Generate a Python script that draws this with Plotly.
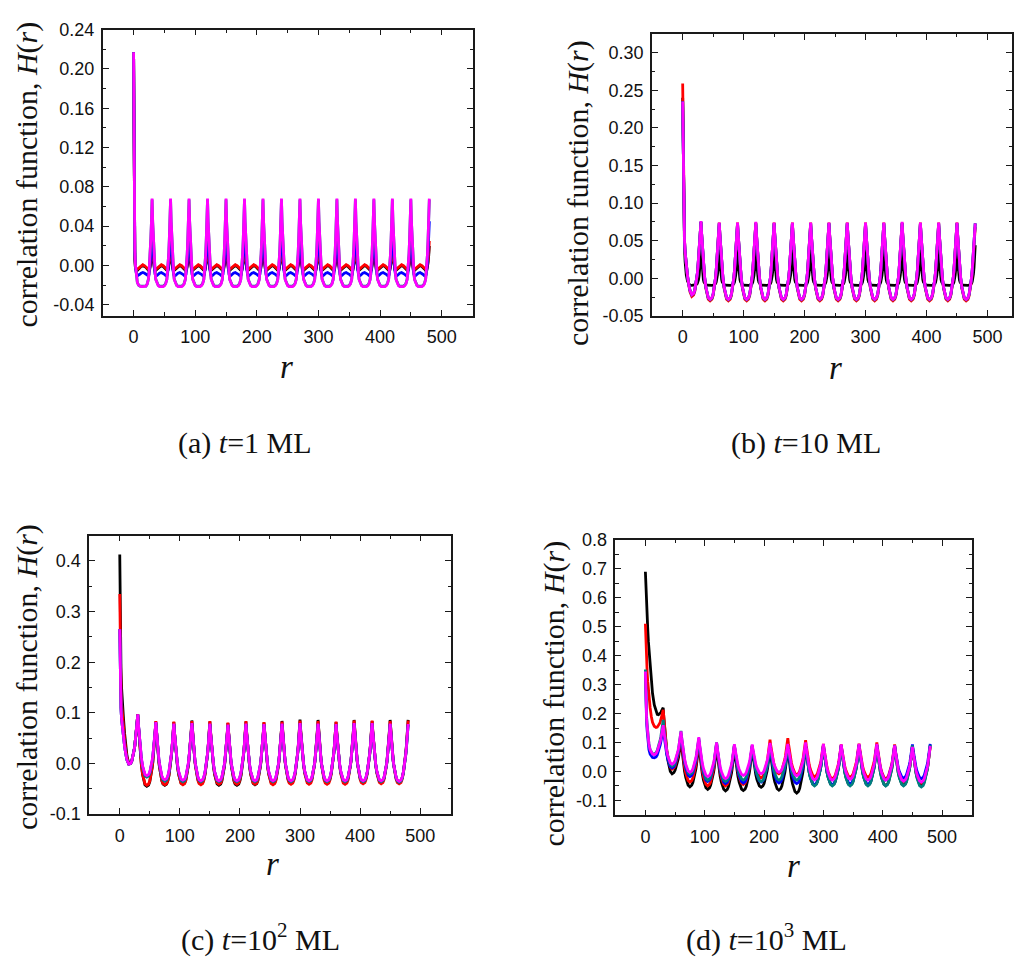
import plotly.graph_objects as go

# ---------------- sampling grid (units of r) ----------------
FIRST_OFFSETS = [0, 1, 2, 3, 4, 5, 6, 8, 10, 12, 15, 18, 20, 22, 24, 25, 26, 27, 28, 29]
HALF_OFFSETS = [0, 1, 2, 3, 4, 5, 6, 8, 10, 12, 15]
PERIOD = 30

X_TICKS = [0, 100, 200, 300, 400, 500]
X_TICK_LABELS = ["0", "100", "200", "300", "400", "500"]

Y_TICKS_A = [-0.04, 0.00, 0.04, 0.08, 0.12, 0.16, 0.20, 0.24]
Y_LABELS_A = ["-0.04", "0.00", "0.04", "0.08", "0.12", "0.16", "0.20", "0.24"]
Y_TICKS_B = [-0.05, 0.00, 0.05, 0.10, 0.15, 0.20, 0.25, 0.30]
Y_LABELS_B = ["-0.05", "0.00", "0.05", "0.10", "0.15", "0.20", "0.25", "0.30"]
Y_TICKS_C = [-0.1, 0.0, 0.1, 0.2, 0.3, 0.4]
Y_LABELS_C = ["-0.1", "0.0", "0.1", "0.2", "0.3", "0.4"]
Y_TICKS_D = [-0.1, 0.0, 0.1, 0.2, 0.3, 0.4, 0.5, 0.6, 0.7, 0.8]
Y_LABELS_D = ["-0.1", "0.0", "0.1", "0.2", "0.3", "0.4", "0.5", "0.6", "0.7", "0.8"]

CAPTIONS = ["(a) <i>t</i>=1 ML", "(b) <i>t</i>=10 ML",
            "(c) <i>t</i>=10<sup>2</sup> ML", "(d) <i>t</i>=10<sup>3</sup> ML"]

# ---------------- panel (a) t = 1 ML ----------------
A_BLACK_FIRST = [0.217, 0.05, 0.006, -0.003, -0.005, -0.0055, -0.005, -0.0035, -0.002, -0.001, 0.0,
                 -0.001, -0.002, -0.0035, -0.005, -0.0055, -0.0045, -0.002, 0.003, 0.01]
A_BLACK_PEAKS = [0.02] * 16
A_BLACK_TROUGHS = [0.0] * 15
A_BLACK_SHAPE = [1.0, 0.5, 0.15, -0.1, -0.225, -0.275, -0.25, -0.175, -0.1, -0.05, 0.0]

A_RED_FIRST = [0.217, 0.05, 0.008, -0.002, -0.004, -0.0045, -0.004, -0.003, -0.0015, -0.0003, 0.0008,
               -0.0003, -0.0015, -0.003, -0.004, -0.0045, -0.003, 0.0, 0.005, 0.013]
A_RED_PEAKS = [0.025] * 16
A_RED_TROUGHS = [0.0008] * 15
A_RED_SHAPE = [1.0, 0.5, 0.17, -0.033, -0.157, -0.219, -0.198, -0.157, -0.095, -0.045, 0.0]

A_BLUE_FIRST = [0.217, 0.055, 0.012, -0.003, -0.008, -0.0095, -0.0105, -0.010, -0.009, -0.008, -0.0072,
                -0.008, -0.009, -0.010, -0.0105, -0.009, -0.005, 0.002, 0.012, 0.025]
A_BLUE_PEAKS = [0.042] * 15 + [0.045]
A_BLUE_TROUGHS = [-0.0072] * 15
A_BLUE_SHAPE = [1.0, 0.65, 0.39, 0.19, 0.045, -0.037, -0.067, -0.061, -0.037, -0.016, 0.0]

A_TEAL_FIRST = [0.217, 0.06, 0.015, 0.0, -0.008, -0.013, -0.017, -0.020, -0.021, -0.021, -0.021,
                -0.021, -0.021, -0.019, -0.014, -0.008, 0.001, 0.012, 0.028, 0.045]
A_TEAL_PEAKS = [0.067] * 16
A_TEAL_TROUGHS = [-0.021] * 15
A_TEAL_SHAPE = [1.0, 0.74, 0.55, 0.37, 0.25, 0.15, 0.08, 0.03, 0.01, 0.0, 0.0]

A_MAGENTA_FIRST = [0.217, 0.06, 0.015, 0.0, -0.008, -0.013, -0.017, -0.020, -0.021, -0.0215, -0.0215,
                   -0.0215, -0.021, -0.019, -0.014, -0.008, 0.001, 0.012, 0.028, 0.045]
A_MAGENTA_PEAKS = [0.068] * 16
A_MAGENTA_TROUGHS = [-0.0215] * 15
A_MAGENTA_SHAPE = [1.0, 0.74, 0.55, 0.37, 0.25, 0.15, 0.08, 0.03, 0.01, 0.0, 0.0]

# ---------------- panel (b) t = 10 ML ----------------
B_BLACK_FIRST = [0.24, 0.13, 0.07, 0.04, 0.022, 0.012, 0.004, -0.004, -0.008, -0.0095, -0.0095,
                 -0.0095, -0.0092, -0.0085, -0.007, -0.005, -0.002, 0.004, 0.012, 0.024]
B_BLACK_PEAKS = [0.038] * 15 + [0.044]
B_BLACK_TROUGHS = [-0.0095] * 15
B_BLACK_SHAPE = [1.0, 0.7, 0.45, 0.28, 0.16, 0.095, 0.053, 0.021, 0.006, 0.0, 0.0]

B_RED_FIRST = [0.259, 0.15, 0.085, 0.052, 0.035, 0.024, 0.015, 0.002, -0.009, -0.018, -0.024,
               -0.022, -0.017, -0.008, 0.005, 0.014, 0.024, 0.035, 0.048, 0.061]
B_RED_PEAKS = [0.075] + [0.074] * 14 + [0.068]
B_RED_TROUGHS = [-0.030] * 15
B_RED_SHAPE = [1.0, 0.86, 0.73, 0.6, 0.48, 0.38, 0.29, 0.16, 0.07, 0.02, 0.0]

B_BLUE_FIRST = [0.235, 0.14, 0.08, 0.05, 0.035, 0.024, 0.015, 0.003, -0.008, -0.016, -0.022,
                -0.020, -0.015, -0.006, 0.006, 0.015, 0.025, 0.037, 0.050, 0.062]
B_BLUE_PEAKS = [0.075] + [0.073] * 15
B_BLUE_TROUGHS = [-0.028] * 15
B_BLUE_SHAPE = [1.0, 0.86, 0.73, 0.6, 0.48, 0.38, 0.29, 0.16, 0.07, 0.02, 0.0]

B_TEAL_FIRST = [0.235, 0.14, 0.08, 0.05, 0.035, 0.024, 0.015, 0.003, -0.008, -0.016, -0.022,
                -0.020, -0.015, -0.006, 0.006, 0.015, 0.025, 0.037, 0.050, 0.062]
B_TEAL_PEAKS = [0.075] + [0.073] * 15
B_TEAL_TROUGHS = [-0.0285] * 15
B_TEAL_SHAPE = [1.0, 0.86, 0.73, 0.6, 0.48, 0.38, 0.29, 0.16, 0.07, 0.02, 0.0]

B_MAGENTA_FIRST = [0.235, 0.14, 0.08, 0.05, 0.035, 0.024, 0.015, 0.003, -0.008, -0.016, -0.022,
                   -0.020, -0.015, -0.006, 0.006, 0.015, 0.025, 0.037, 0.050, 0.062]
B_MAGENTA_PEAKS = [0.076, 0.074, 0.074, 0.075, 0.074, 0.074, 0.074, 0.074, 0.074, 0.074, 0.074,
                   0.075, 0.074, 0.074, 0.074, 0.073]
B_MAGENTA_TROUGHS = [-0.028] * 15
B_MAGENTA_SHAPE = [1.0, 0.86, 0.73, 0.6, 0.48, 0.38, 0.29, 0.16, 0.07, 0.02, 0.0]

# ---------------- panel (c) t = 10^2 ML ----------------
C_SHAPE = [1.0, 0.85, 0.71, 0.58, 0.47, 0.37, 0.29, 0.16, 0.07, 0.02, 0.0]
C_BLACK_FIRST = [0.413, 0.26, 0.19, 0.15, 0.125, 0.107, 0.092, 0.06, 0.035, 0.015, 0.0,
                 0.0, 0.005, 0.014, 0.027, 0.035, 0.045, 0.055, 0.068, 0.082]
C_BLACK_PEAKS = [0.097, 0.083, 0.082, 0.085, 0.083, 0.080, 0.083, 0.081, 0.084, 0.087, 0.086,
                 0.082, 0.086, 0.084, 0.086, 0.086]
C_BLACK_TROUGHS = [-0.045, -0.043, -0.041, -0.040, -0.043, -0.043, -0.042, -0.040, -0.039, -0.038,
                   -0.038, -0.038, -0.037, -0.037, -0.037]
C_RED_FIRST = [0.335, 0.2, 0.145, 0.118, 0.1, 0.087, 0.075, 0.048, 0.027, 0.011, -0.001,
               0.0, 0.005, 0.014, 0.027, 0.035, 0.045, 0.055, 0.068, 0.082]
C_RED_PEAKS = [0.097, 0.084, 0.083, 0.084, 0.084, 0.081, 0.084, 0.082, 0.083, 0.085, 0.084,
               0.083, 0.085, 0.085, 0.084, 0.085]
C_RED_TROUGHS = [-0.043, -0.042, -0.042, -0.042, -0.041, -0.041, -0.041, -0.042, -0.041, -0.041,
                 -0.041, -0.041, -0.040, -0.040, -0.040]
C_BLUE_FIRST = [0.265, 0.15, 0.11, 0.088, 0.074, 0.062, 0.052, 0.034, 0.019, 0.007, -0.001,
                0.0, 0.005, 0.014, 0.027, 0.035, 0.045, 0.055, 0.068, 0.082]
C_BLUE_PEAKS = [0.096, 0.081, 0.078, 0.079, 0.078, 0.076, 0.078, 0.077, 0.078, 0.079, 0.078,
                0.077, 0.079, 0.079, 0.078, 0.077]
C_BLUE_TROUGHS = [-0.026, -0.034, -0.035, -0.035, -0.035, -0.035, -0.035, -0.035, -0.035, -0.035,
                  -0.035, -0.035, -0.035, -0.035, -0.036]
C_TEAL_FIRST = [0.265, 0.15, 0.11, 0.088, 0.074, 0.062, 0.052, 0.034, 0.019, 0.007, -0.001,
                0.0, 0.005, 0.014, 0.027, 0.035, 0.045, 0.055, 0.068, 0.082]
C_TEAL_PEAKS = [0.096, 0.080, 0.078, 0.079, 0.078, 0.076, 0.078, 0.077, 0.078, 0.079, 0.078,
                0.077, 0.079, 0.079, 0.078, 0.077]
C_TEAL_TROUGHS = [-0.027, -0.035, -0.036, -0.036, -0.036, -0.036, -0.036, -0.036, -0.036, -0.036,
                  -0.036, -0.036, -0.036, -0.036, -0.037]
C_MAGENTA_FIRST = [0.265, 0.15, 0.11, 0.088, 0.074, 0.062, 0.052, 0.034, 0.019, 0.007, -0.001,
                   0.0, 0.005, 0.014, 0.027, 0.035, 0.045, 0.055, 0.068, 0.082]
C_MAGENTA_PEAKS = [0.097, 0.082, 0.079, 0.080, 0.079, 0.077, 0.079, 0.078, 0.079, 0.080, 0.079,
                   0.078, 0.080, 0.080, 0.079, 0.078]
C_MAGENTA_TROUGHS = [-0.024, -0.032, -0.033, -0.034, -0.034, -0.034, -0.034, -0.034, -0.034, -0.034,
                     -0.034, -0.034, -0.034, -0.034, -0.035]

# ---------------- panel (d) t = 10^3 ML ----------------
D_SHAPE = [1.0, 0.86, 0.73, 0.61, 0.5, 0.41, 0.33, 0.2, 0.1, 0.035, 0.0]
D_BLACK_FIRST = [0.69, 0.62, 0.57, 0.53, 0.49, 0.45, 0.42, 0.36, 0.31, 0.27, 0.23,
                 0.205, 0.197, 0.196, 0.199, 0.201, 0.204, 0.208, 0.212, 0.216]
D_BLACK_PEAKS = [0.22, 0.11, 0.095, 0.085, 0.08, 0.08, 0.08, 0.085, 0.09, 0.09, 0.09,
                 0.09, 0.09, 0.088, 0.088, 0.09]
D_BLACK_TROUGHS = [-0.008, -0.053, -0.062, -0.067, -0.066, -0.055, -0.065, -0.075, -0.048, -0.048,
                   -0.048, -0.048, -0.049, -0.048, -0.05]
D_RED_FIRST = [0.51, 0.43, 0.38, 0.34, 0.31, 0.28, 0.26, 0.22, 0.19, 0.17, 0.156,
               0.152, 0.153, 0.158, 0.166, 0.171, 0.177, 0.184, 0.193, 0.203]
D_RED_PEAKS = [0.213, 0.12, 0.105, 0.095, 0.09, 0.088, 0.11, 0.115, 0.108, 0.095, 0.093,
               0.096, 0.1, 0.093, 0.085, 0.085]
D_RED_TROUGHS = [0.008, -0.037, -0.05, -0.05, -0.045, -0.022, -0.008, -0.011, -0.018, -0.025,
                 -0.02, -0.02, -0.025, -0.034, -0.04]
D_BLUE_FIRST = [0.34, 0.22, 0.17, 0.14, 0.11, 0.09, 0.075, 0.06, 0.052, 0.048, 0.047,
                0.05, 0.057, 0.068, 0.083, 0.092, 0.102, 0.113, 0.125, 0.138]
D_BLUE_PEAKS = [0.15, 0.13, 0.11, 0.098, 0.09, 0.088, 0.087, 0.087, 0.088, 0.09, 0.09,
                0.092, 0.092, 0.09, 0.093, 0.095]
D_BLUE_TROUGHS = [0.012, -0.018, -0.035, -0.042, -0.04, -0.037, -0.04, -0.042, -0.046, -0.046,
                  -0.043, -0.045, -0.03, -0.023, -0.025]
D_TEAL_FIRST = [0.352, 0.24, 0.19, 0.16, 0.13, 0.11, 0.095, 0.075, 0.066, 0.061, 0.06,
                0.065, 0.073, 0.085, 0.1, 0.11, 0.12, 0.132, 0.145, 0.16]
D_TEAL_PEAKS = [0.178, 0.14, 0.115, 0.1, 0.092, 0.09, 0.09, 0.088, 0.09, 0.092, 0.09,
                0.092, 0.09, 0.088, 0.09, 0.092]
D_TEAL_TROUGHS = [0.018, -0.01, -0.03, -0.035, -0.03, -0.035, -0.03, -0.03, -0.05, -0.05,
                  -0.05, -0.05, -0.05, -0.05, -0.054]
D_MAGENTA_FIRST = [0.345, 0.235, 0.185, 0.155, 0.128, 0.108, 0.093, 0.074, 0.065, 0.06, 0.058,
                   0.062, 0.07, 0.081, 0.095, 0.104, 0.113, 0.124, 0.136, 0.148]
D_MAGENTA_PEAKS = [0.16, 0.138, 0.118, 0.1, 0.094, 0.093, 0.098, 0.095, 0.1, 0.095, 0.093,
                   0.095, 0.095, 0.09, 0.085, 0.088]
D_MAGENTA_TROUGHS = [0.025, -0.003, -0.018, -0.025, -0.014, -0.008, -0.003, -0.015, -0.029, -0.03,
                     -0.027, -0.03, -0.03, -0.033, -0.037]

COLORS = {"black": "#000000", "red": "#ff0000", "blue": "#0000ff",
          "teal": "#008080", "magenta": "#ff00ff"}

PANELS = [
    ("a", [("black", A_BLACK_FIRST, A_BLACK_PEAKS, A_BLACK_TROUGHS, A_BLACK_SHAPE),
           ("red", A_RED_FIRST, A_RED_PEAKS, A_RED_TROUGHS, A_RED_SHAPE),
           ("blue", A_BLUE_FIRST, A_BLUE_PEAKS, A_BLUE_TROUGHS, A_BLUE_SHAPE),
           ("teal", A_TEAL_FIRST, A_TEAL_PEAKS, A_TEAL_TROUGHS, A_TEAL_SHAPE),
           ("magenta", A_MAGENTA_FIRST, A_MAGENTA_PEAKS, A_MAGENTA_TROUGHS, A_MAGENTA_SHAPE)]),
    ("b", [("black", B_BLACK_FIRST, B_BLACK_PEAKS, B_BLACK_TROUGHS, B_BLACK_SHAPE),
           ("red", B_RED_FIRST, B_RED_PEAKS, B_RED_TROUGHS, B_RED_SHAPE),
           ("blue", B_BLUE_FIRST, B_BLUE_PEAKS, B_BLUE_TROUGHS, B_BLUE_SHAPE),
           ("teal", B_TEAL_FIRST, B_TEAL_PEAKS, B_TEAL_TROUGHS, B_TEAL_SHAPE),
           ("magenta", B_MAGENTA_FIRST, B_MAGENTA_PEAKS, B_MAGENTA_TROUGHS, B_MAGENTA_SHAPE)]),
    ("c", [("black", C_BLACK_FIRST, C_BLACK_PEAKS, C_BLACK_TROUGHS, C_SHAPE),
           ("red", C_RED_FIRST, C_RED_PEAKS, C_RED_TROUGHS, C_SHAPE),
           ("blue", C_BLUE_FIRST, C_BLUE_PEAKS, C_BLUE_TROUGHS, C_SHAPE),
           ("teal", C_TEAL_FIRST, C_TEAL_PEAKS, C_TEAL_TROUGHS, C_SHAPE),
           ("magenta", C_MAGENTA_FIRST, C_MAGENTA_PEAKS, C_MAGENTA_TROUGHS, C_SHAPE)]),
    ("d", [("black", D_BLACK_FIRST, D_BLACK_PEAKS, D_BLACK_TROUGHS, D_SHAPE),
           ("red", D_RED_FIRST, D_RED_PEAKS, D_RED_TROUGHS, D_SHAPE),
           ("blue", D_BLUE_FIRST, D_BLUE_PEAKS, D_BLUE_TROUGHS, D_SHAPE),
           ("teal", D_TEAL_FIRST, D_TEAL_PEAKS, D_TEAL_TROUGHS, D_SHAPE),
           ("magenta", D_MAGENTA_FIRST, D_MAGENTA_PEAKS, D_MAGENTA_TROUGHS, D_SHAPE)]),
]


def build_series(first, peaks, troughs, shape):
    """Assemble (r, H) points: explicit first period, then per-period peak/trough
    values joined by the shape table read from the picture."""
    r = list(FIRST_OFFSETS)
    h = list(first)
    right = list(zip(HALF_OFFSETS[1:-1], shape[1:-1]))[::-1]
    for k in range(1, len(peaks)):
        base = PERIOD * k
        p0, p1, t = peaks[k - 1], peaks[k], troughs[k - 1]
        for o, f in zip(HALF_OFFSETS, shape):
            r.append(base + o)
            h.append(t + f * (p0 - t))
        for o, f in right:
            r.append(base + PERIOD - o)
            h.append(t + f * (p1 - t))
    r.append(PERIOD * len(peaks))
    h.append(peaks[-1])
    return r, h


fig = go.Figure()
for i, (name, series) in enumerate(PANELS):
    xa = "x" if i == 0 else f"x{i + 1}"
    ya = "y" if i == 0 else f"y{i + 1}"
    for cname, first, peaks, troughs, shape in series:
        r, h = build_series(first, peaks, troughs, shape)
        fig.add_trace(go.Scatter(x=r, y=h, mode="lines", xaxis=xa, yaxis=ya,
                                 line=dict(color=COLORS[cname], width=2.8),
                                 showlegend=False, hoverinfo="skip"))

AX = "#1a1a1a"
TICKFONT = dict(family="Liberation Sans, Arial, sans-serif", size=18, color="#111")


def xaxis(domain, rng, anchor):
    return dict(domain=domain, range=rng, anchor=anchor, tickmode="array",
                tickvals=X_TICKS, ticktext=X_TICK_LABELS, ticks="inside", ticklen=6,
                tickwidth=1.3, tickcolor=AX, showline=True, linecolor=AX, linewidth=1.6,
                mirror="allticks", showgrid=False, zeroline=False, tickfont=TICKFONT,
                ticklabelstandoff=4,
                minor=dict(tickmode="linear", tick0=0, dtick=50, ticks="inside",
                           ticklen=3.5, tickwidth=1.2, tickcolor=AX, showgrid=False))


def yaxis(domain, rng, anchor, vals, labels, minor):
    return dict(domain=domain, range=rng, anchor=anchor, tickmode="array",
                tickvals=vals, ticktext=labels, ticks="inside", ticklen=6,
                tickwidth=1.3, tickcolor=AX, showline=True, linecolor=AX, linewidth=1.6,
                mirror="allticks", showgrid=False, zeroline=False, tickfont=TICKFONT,
                ticklabelstandoff=3,
                minor=dict(tickmode="linear", tick0=0, dtick=minor, ticks="inside",
                           ticklen=3.5, tickwidth=1.2, tickcolor=AX, showgrid=False))


W, H = 1014, 974
fig.update_layout(
    width=W, height=H, margin=dict(l=0, r=0, t=0, b=0),
    paper_bgcolor="white", plot_bgcolor="white",
    xaxis=xaxis([103 / W, 474 / W], [-50, 551], "y"),
    yaxis=yaxis([1 - 312 / H, 1 - 20 / H], [-0.051, 0.24], "x", Y_TICKS_A, Y_LABELS_A, 0.02),
    xaxis2=xaxis([653.3 / W, 1.0], [-50.3, 540.3], "y2"),
    yaxis2=yaxis([1 - 312.3 / H, 1 - 24.3 / H], [-0.05, 0.325], "x2", Y_TICKS_B, Y_LABELS_B, 0.025),
    xaxis3=xaxis([89.3 / W, 451.7 / W], [-51, 551], "y3"),
    yaxis3=yaxis([1 - 821 / H, 1 - 536.7 / H], [-0.1, 0.45], "x3", Y_TICKS_C, Y_LABELS_C, 0.05),
    xaxis4=xaxis([616.7 / W, 974 / W], [-50.4, 550.5], "y4"),
    yaxis4=yaxis([1 - 822.3 / H, 1 - 541 / H], [-0.152, 0.8], "x4", Y_TICKS_D, Y_LABELS_D, 0.05),
)

SERIF = "Liberation Serif, Times New Roman, serif"
YTITLE = "correlation function, <i>H</i>(<i>r</i>)"
ytitle_pos = [(27, 168), (579, 187), (27, 681), (555, 698)]
xtitle_pos = [(287, 364), (837, 366), (273, 872), (795, 874)]
caption_pos = [(245, 442), (808, 442), (261, 947), (768, 947)]

for (yx, yy), (xx, xy), (cx, cy), cap in zip(ytitle_pos, xtitle_pos, caption_pos, CAPTIONS):
    fig.add_annotation(x=yx / W, y=1 - yy / H, xref="paper", yref="paper", text=YTITLE,
                       textangle=-90, showarrow=False, xanchor="center", yanchor="middle",
                       font=dict(family=SERIF, size=30, color="#111"))
    fig.add_annotation(x=xx / W, y=1 - xy / H, xref="paper", yref="paper", text="<i>r</i>",
                       showarrow=False, xanchor="center", yanchor="middle",
                       font=dict(family=SERIF, size=33, color="#111"))
    fig.add_annotation(x=cx / W, y=1 - cy / H, xref="paper", yref="paper", text=cap,
                       showarrow=False, xanchor="center", yanchor="middle",
                       font=dict(family=SERIF, size=30, color="#111"))

fig.write_html("out.html")
